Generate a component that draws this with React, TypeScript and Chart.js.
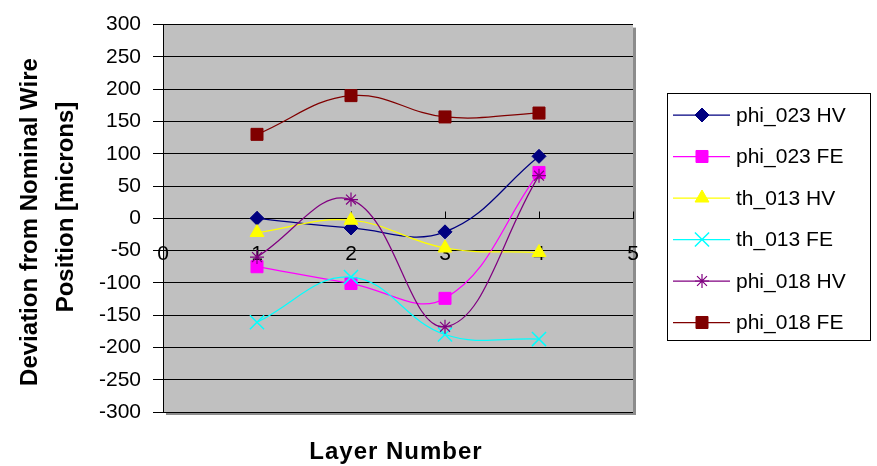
import React, { useEffect, useRef } from 'react';
import { Chart, registerables } from 'chart.js';
import { drawPoint } from 'chart.js/helpers';

Chart.register(...registerables);

// ---- data ----
const layers = [1, 2, 3, 4];
const seriesNames = ['phi_023 HV', 'phi_023 FE', 'th_013 HV', 'th_013 FE', 'phi_018 HV', 'phi_018 FE'];
const phi023HV = [0, -15, -21, 96];
const phi023FE = [-75, -101, -124, 71];
const th013HV = [-22, -3, -46, -53];
const th013FE = [-161, -91, -180, -187];
const phi018HV = [-60, 29, -168, 66];
const phi018FE = [130, 190, 157, 163];
const xTickValues = [0, 1, 2, 3, 4, 5];
const yTickValues = [-300, -250, -200, -150, -100, -50, 0, 50, 100, 150, 200, 250, 300];
const xAxisTitle = 'Layer Number';
const yAxisTitleLines = ['Deviation from Nominal Wire', 'Position [microns]'];

const seriesValues = [phi023HV, phi023FE, th013HV, th013FE, phi018HV, phi018FE];
const seriesColors = ['#000080', '#FF00FF', '#FFFF00', '#00FFFF', '#800080', '#800000'];
const seriesStyles = ['rectRot', 'rect', 'triangle', 'crossRot', 'star', 'rect'];
const seriesRadii = [7, 8.5, 8, 10, 7, 8.5];
const seriesBorder = [1, 1, 1, 1.5, 1.2, 1];

const FONT = "'Liberation Sans', Arial, sans-serif";

const decorPlugin = {
  id: 'decor',
  beforeDraw(chart: any) {
    const { ctx, chartArea: a } = chart;
    ctx.save();
    ctx.fillStyle = '#8c8c8c';
    ctx.fillRect(a.left + 3, a.top + 3, a.right - a.left, a.bottom - a.top);
    ctx.fillStyle = '#C0C0C0';
    ctx.fillRect(a.left, a.top, a.right - a.left, a.bottom - a.top);
    ctx.restore();
  },
  beforeDatasetsDraw(chart: any) {
    const { ctx } = chart;
    const xs = chart.scales.x;
    const ys = chart.scales.y;
    const py = Math.round(ys.getPixelForValue(0)) + 0.5;
    ctx.save();
    ctx.strokeStyle = '#000';
    ctx.lineWidth = 1;
    xTickValues.forEach((v) => {
      if (v === 0) return;
      const px = Math.round(xs.getPixelForValue(v)) + 0.5;
      ctx.beginPath();
      ctx.moveTo(px, py - 7);
      ctx.lineTo(px, py);
      ctx.stroke();
    });
    ctx.restore();
  },
  afterDraw(chart: any) {
    const { ctx } = chart;
    ctx.save();
    // y title
    ctx.fillStyle = '#000';
    ctx.font = `bold 24px ${FONT}`;
    ctx.textAlign = 'center';
    ctx.textBaseline = 'alphabetic';
    const yPos = [[37, 222], [73, 207]];
    yAxisTitleLines.forEach((t, i) => {
      ctx.save();
      ctx.translate(yPos[i][0], yPos[i][1]);
      ctx.rotate(-Math.PI / 2);
      ctx.fillText(t, 0, 0);
      ctx.restore();
    });
    // x title
    ctx.save();
    (ctx as any).letterSpacing = '1px';
    ctx.textBaseline = 'middle';
    ctx.fillText(xAxisTitle, 396, 452);
    ctx.restore();

    // legend
    const L = 667, T = 93, R = 870, B = 340;
    ctx.strokeStyle = '#000';
    ctx.lineWidth = 1;
    ctx.strokeRect(L + 0.5, T + 0.5, R - L, B - T);
    ctx.font = `21px ${FONT}`;
    ctx.textAlign = 'left';
    ctx.textBaseline = 'middle';
    seriesNames.forEach((name, i) => {
      const y = 115 + i * 41.5;
      ctx.strokeStyle = seriesColors[i];
      ctx.lineWidth = 1.25;
      ctx.beginPath();
      ctx.moveTo(673, y);
      ctx.lineTo(730, y);
      ctx.stroke();
      ctx.fillStyle = seriesColors[i];
      ctx.lineWidth = seriesBorder[i];
      drawPoint(ctx, { pointStyle: seriesStyles[i] as any, radius: seriesRadii[i], borderWidth: seriesBorder[i], rotation: 0 }, 702, y);
      ctx.fillStyle = '#000';
      ctx.fillText(name, 736, y + 1);
    });
    ctx.restore();
  },
};

export default function App() {
  const ref = useRef<HTMLCanvasElement>(null);
  useEffect(() => {
    const datasets = seriesNames.map((name, i) => ({
      label: name,
      data: layers.map((x, j) => ({ x, y: seriesValues[i][j] })),
      showLine: true,
      borderColor: seriesColors[i],
      backgroundColor: seriesColors[i],
      borderWidth: 1.25,
      tension: 0.4,
      pointStyle: seriesStyles[i] as any,
      pointRadius: seriesRadii[i],
      pointBorderWidth: seriesBorder[i],
      pointBackgroundColor: seriesColors[i],
      pointBorderColor: seriesColors[i],
      order: seriesNames.length - i,
    }));
    const chart = new Chart(ref.current!, {
      type: 'scatter',
      data: { datasets },
      options: {
        animation: false,
        responsive: false,
        devicePixelRatio: 1,
        layout: { padding: { left: 0, top: 20, right: 244, bottom: 54 } },
        plugins: { legend: { display: false }, tooltip: { enabled: false } },
        scales: {
          x: {
            type: 'linear',
            position: { y: 0 } as any,
            min: 0,
            max: 5,
            afterBuildTicks: (s: any) => { s.ticks = xTickValues.map((v) => ({ value: v })); },
            grid: { display: false, drawTicks: false },
            border: { display: true, color: '#000', width: 1 },
            ticks: { color: '#000', font: { family: FONT, size: 21 }, padding: 23, maxRotation: 0, autoSkip: false },
          },
          y: {
            type: 'linear',
            min: -300,
            max: 300,
            afterBuildTicks: (s: any) => { s.ticks = yTickValues.map((v) => ({ value: v })); },
            afterFit: (s: any) => { s.width = 163; },
            grid: { color: '#000', lineWidth: 1, drawTicks: true, tickLength: 10, tickColor: '#000' },
            border: { display: true, color: '#000', width: 1 },
            ticks: { color: '#000', font: { family: FONT, size: 21 }, padding: 12, autoSkip: false },
          },
        },
      },
      plugins: [decorPlugin],
    });
    return () => chart.destroy();
  }, []);
  return (
    <div style={{ position: 'absolute', left: 0, top: 0, width: 877, height: 466, background: '#fff' }}>
      <canvas ref={ref} width={877} height={466} style={{ display: 'block' }} />
    </div>
  );
}
